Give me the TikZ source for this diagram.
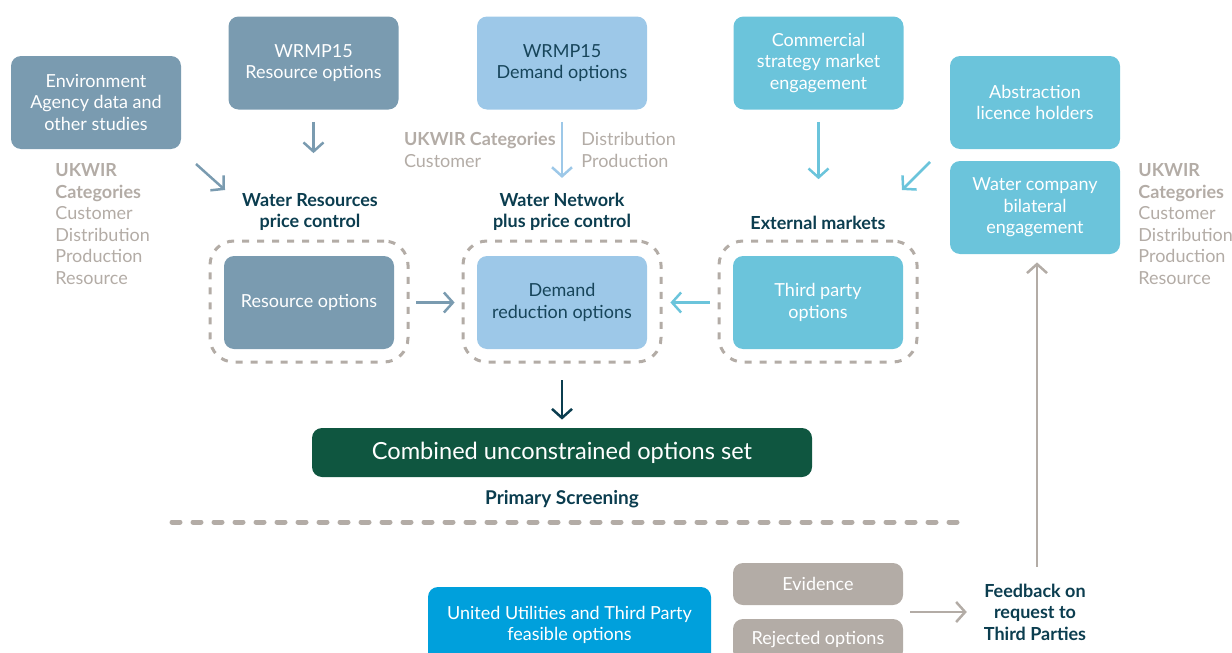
\documentclass[tikz,border=0pt]{standalone}
\usepackage{fontspec}
\setmainfont{Lato}
\usetikzlibrary{arrows.meta,calc}
\definecolor{steel}{HTML}{7A9BB0}
\definecolor{lblue}{HTML}{9DC8E8}
\definecolor{cyanb}{HTML}{6BC4DB}
\definecolor{dgreen}{HTML}{0F5640}
\definecolor{navy}{HTML}{0B3D4F}
\definecolor{greyt}{HTML}{B3ACA6}
\definecolor{uublue}{HTML}{00A0DC}
\definecolor{dtext}{HTML}{17455A}
\tikzset{
  box/.style={rounded corners=5pt, minimum width=85pt, minimum height=46.5pt, align=center, inner sep=2pt,
    font=\fontsize{9}{10.8}\selectfont, text=white},
  grp/.style={draw=greyt, line width=1.5pt, dash pattern=on 3.5pt off 4pt, rounded corners=12pt},
  head/.style={align=center, font=\fontsize{9}{10.8}\selectfont\bfseries, text=navy},
  cat/.style={align=left, font=\fontsize{9}{10.8}\selectfont, text=greyt, anchor=north west, inner sep=0pt},
  arr/.style={line width=1.25pt, -{Straight Barb[length=4.5pt,width=10pt]}},
}
\begin{document}
\begin{tikzpicture}[x=0.5pt,y=-0.5pt]
\useasboundingbox (0,0) rectangle (1232,653);
\begin{scope}
\clip (0,0) rectangle (1232,653);
% top boxes
\node[box, fill=steel] (env) at (96,102.5) {Environment\\Agency data and\\other studies};
\node[box, fill=steel] (wres) at (313.5,63) {WRMP15\\Resource options};
\node[box, fill=lblue, text=dtext] (wdem) at (562,63) {WRMP15\\Demand options};
\node[box, fill=cyanb] (comm) at (818.5,63) {Commercial\\strategy market\\engagement};
\node[box, fill=cyanb] (abs) at (1035,102.5) {Abstraction\\licence holders};
\node[box, fill=cyanb] (wcb) at (1035,207.5) {Water company\\bilateral\\engagement};
% groups
\node[grp, minimum width=99pt, minimum height=60.5pt] (gres) at (309,301.5) {};
\node[grp, minimum width=99pt, minimum height=60.5pt] (gdem) at (562,301.5) {};
\node[grp, minimum width=99pt, minimum height=60.5pt] (gtp) at (818,301.5) {};
\node[box, fill=steel] (res) at (309,302.5) {Resource options};
\node[box, fill=lblue, text=dtext] (dem) at (562,302.5) {Demand\\reduction options};
\node[box, fill=cyanb] (tp) at (818,302.5) {Third party\\options};
% headings
\node[head] (hres) at (310,212) {Water Resources\\price control};
\node[head] (hdem) at (562,212) {Water Network\\plus price control};
\node[head] (hext) at (818,223) {External markets};
% categories
\node[cat] (catl) at (55,163) {\textbf{UKWIR}\\\textbf{Categories}\\Customer\\Distribution\\Production\\Resource};
\node[cat, anchor=north east] (catm1) at (556,132) {\textbf{UKWIR Categories}\\Customer};
\node[cat] (catm2) at (581,132) {Distribution\\Production};
\node[cat] (catr) at (1138,163) {\textbf{UKWIR}\\\textbf{Categories}\\Customer\\Distribution\\Production\\Resource};
% combined
\node[box, fill=dgreen, minimum width=250pt, minimum height=24.5pt, font=\fontsize{11.8}{13}\selectfont] (comb) at (562,452.5) {Combined unconstrained options set};
\node[head, font=\fontsize{9.5}{11}\selectfont\bfseries, text=navy] (ps) at (562,499) {Primary Screening};
\coordinate (dl1) at (172,522);
\coordinate (dr1) at (965,522);
\draw[greyt, line width=2.5pt, line cap=round, dash pattern=on 4pt off 6.5pt] (dl1) -- (dr1);
% bottom
\node[box, fill=uublue, minimum width=141.5pt, minimum height=38pt] (uu) at (569.5,625) {United Utilities and Third Party\\feasible options};
\node[box, fill=greyt, minimum height=21pt] (ev) at (818,584) {Evidence};
\node[box, fill=greyt, minimum height=21pt] (rej) at (818,640) {Rejected options};
\node[head] (fb) at (1035,612) {Feedback on\\request to\\Third Parties};
% arrows
\coordinate (e1) at (196,164);
\coordinate (e2) at (225,190);
\draw[arr, steel] (e1) -- (e2);
\draw[arr, steel, shorten <=6pt, shorten >=16.5pt] (wres.south) -- (wres.south |- hres.north);
\draw[arr, lblue, shorten <=6pt, shorten >=4pt] (wdem.south) -- (hdem.north);
\draw[arr, cyanb, shorten <=6pt, shorten >=15pt] (comm.south) -- (comm.south |- hext.north);
\coordinate (a1) at (930,162);
\coordinate (a2) at (902,190);
\draw[arr, cyanb] (a1) -- (a2);
\draw[arr, steel, shorten <=11pt, shorten >=11pt] (res.east) -- (dem.west);
\draw[arr, cyanb, shorten <=11.5pt, shorten >=11.5pt] (tp.west) -- (dem.east);
\draw[arr, navy, shorten <=15.5pt, shorten >=4pt] (dem.south) -- (comb.north);
\draw[arr, greyt, shorten <=3.5pt, shorten >=5pt] (ev.east |- fb.west) -- (fb.west);
\draw[arr, greyt, shorten <=5pt, shorten >=4pt] ([xshift=1pt]fb.north) -- ([xshift=1pt]wcb.south);
\end{scope}
\end{tikzpicture}
\end{document}
